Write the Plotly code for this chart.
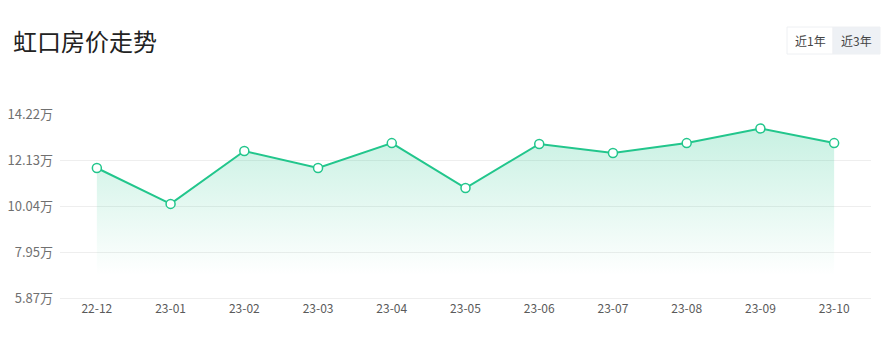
import plotly.graph_objects as go

months = ["22-12", "23-01", "23-02", "23-03", "23-04", "23-05", "23-06", "23-07", "23-08", "23-09", "23-10"]
prices = [11.77, 10.14, 12.54, 11.77, 12.90, 10.86, 12.86, 12.45, 12.90, 13.56, 12.90]
tick_vals = [5.87, 7.95, 10.04, 12.13, 14.22]
tick_text = ["5.87万", "7.95万", "10.04万", "12.13万", "14.22万"]

GREEN = "#22c68c"
W, H, L, R, T, B = 895, 341, 60, 24, 114, 43


def px_x(px):
    return (px - L) / (W - L - R)


def px_y(py):
    return (H - B - py) / (H - T - B)


fig = go.Figure()
fig.add_trace(go.Scatter(
    x=months, y=prices, mode="lines+markers",
    line=dict(color=GREEN, width=2),
    marker=dict(size=9, color="white", line=dict(color=GREEN, width=1.5)),
    fill="tozeroy",
    fillgradient=dict(type="vertical", start=6.9, stop=max(prices),
                      colorscale=[[0, "rgba(34,198,140,0)"], [1, "rgba(34,198,140,0.25)"]]),
    hoverinfo="x+y",
))

fig.update_layout(
    width=W, height=H,
    margin=dict(l=L, r=R, t=T, b=B, autoexpand=False),
    paper_bgcolor="white", plot_bgcolor="white",
    showlegend=False,
    font=dict(family="Noto Sans CJK SC, sans-serif", color="#666", size=12),
    xaxis=dict(type="category", range=[-0.5, len(months) - 0.5], showgrid=False,
               showline=True, linecolor="#eeeeee", linewidth=1, ticks="", automargin=False,
               tickfont=dict(color="#5a5a5a", size=12), fixedrange=True),
    yaxis=dict(range=[5.87, 14.22], tickvals=tick_vals, ticktext=tick_text,
               showgrid=True, gridcolor="#eeeeee", gridwidth=1, zeroline=False,
               showline=False, ticks="", ticklabelstandoff=6, automargin=False,
               tickfont=dict(color="#707070", size=13), fixedrange=True),
    shapes=[
        dict(type="rect", xref="paper", yref="paper", x0=px_x(787), x1=px_x(833), y0=px_y(54), y1=px_y(27),
             line=dict(color="#eef0f3", width=1), fillcolor="white", layer="above"),
        dict(type="rect", xref="paper", yref="paper", x0=px_x(833), x1=px_x(880), y0=px_y(54), y1=px_y(27),
             line=dict(color="#eef0f3", width=1), fillcolor="#eef1f5", layer="above"),
    ],
)

fig.add_annotation(text="虹口房价走势", xref="paper", yref="paper", x=px_x(11), y=px_y(40),
                   xanchor="left", yanchor="middle", showarrow=False,
                   font=dict(size=24, color="#222", family="Noto Sans CJK SC, sans-serif"))
fig.add_annotation(text="近1年", xref="paper", yref="paper", x=px_x(810), y=px_y(41),
                   xanchor="center", yanchor="middle", showarrow=False,
                   font=dict(size=12, color="#444", family="Noto Sans CJK SC, sans-serif"))
fig.add_annotation(text="近3年", xref="paper", yref="paper", x=px_x(856.5), y=px_y(41),
                   xanchor="center", yanchor="middle", showarrow=False,
                   font=dict(size=12, color="#444", family="Noto Sans CJK SC, sans-serif"))

fig.write_html("out.html")
